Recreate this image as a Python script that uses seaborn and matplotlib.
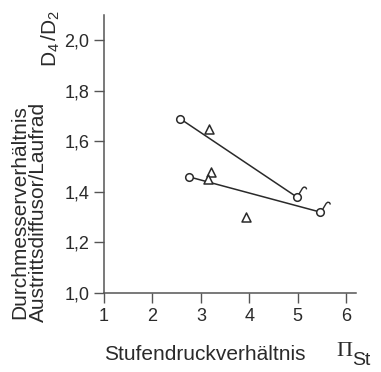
import matplotlib
matplotlib.use("Agg")
import matplotlib.pyplot as plt
import numpy as np
import pandas as pd
import seaborn as sns
from matplotlib.path import Path

# Stage pressure ratio vs. diameter ratio (exit diffuser / impeller)
circle_pr = [2.57, 2.75, 4.98, 5.47]
circle_dr = [1.69, 1.46, 1.38, 1.32]
flagged_pr = [4.98, 5.47]
flagged_dr = [1.38, 1.32]
triangle_pr = [3.16, 3.20, 3.14, 3.93]
triangle_dr = [1.65, 1.48, 1.45, 1.30]

# Trend lines connecting the circle series
trend_id = ["a", "a", "b", "b"]
trend_pr = [2.57, 4.98, 2.75, 5.47]
trend_dr = [1.69, 1.38, 1.46, 1.32]

x_ticks = [1, 2, 3, 4, 5, 6]
x_ticklabels = ["1", "2", "3", "4", "5", "6"]
y_ticks = [1.0, 1.2, 1.4, 1.6, 1.8, 2.0]
y_ticklabels = ["1,0", "1,2", "1,4", "1,6", "1,8", "2,0"]

sns.set_style("ticks")
plt.rcParams["font.family"] = ["Liberation Sans", "DejaVu Sans"]
plt.rcParams["mathtext.fontset"] = "custom"
plt.rcParams["mathtext.rm"] = "Liberation Sans"
plt.rcParams["mathtext.it"] = "Liberation Sans:italic"

ink = "#2a2a2a"
axis_col = "#555555"

fig = plt.figure(figsize=(3.81, 3.72), dpi=100)
ax = fig.add_axes([0.273, 0.2124, 0.661, 0.747])

trends = pd.DataFrame({"id": trend_id, "pr": trend_pr, "dr": trend_dr})
sns.lineplot(data=trends, x="pr", y="dr", units="id", estimator=None,
             sort=False, color=ink, linewidth=1.1, ax=ax, zorder=2)

sns.scatterplot(x=triangle_pr, y=triangle_dr, marker="^", s=42,
                color="white", edgecolor=ink, linewidth=1.1, ax=ax, zorder=3)
sns.scatterplot(x=circle_pr, y=circle_dr, marker="o", s=30,
                color="white", edgecolor=ink, linewidth=1.1, ax=ax, zorder=4)

# small hook attached to the two high-pressure-ratio circles
flag = Path([(0.6, 0.8), (1.5, 2.3), (1.9, 2.6), (2.35, 2.5), (2.6, 2.0)])
sns.scatterplot(x=flagged_pr, y=flagged_dr, marker=flag, s=205,
                color="none", edgecolor=ink, linewidth=1.0, ax=ax, zorder=4)

ax.set_xlim(1, 6.2)
ax.set_ylim(1.0, 2.10)
ax.set_xticks(x_ticks)
ax.set_xticklabels(x_ticklabels)
ax.set_yticks(y_ticks)
ax.set_yticklabels(y_ticklabels)
ax.set_xlabel("")
ax.set_ylabel("")
for side in ("top", "right"):
    ax.spines[side].set_visible(False)
for side in ("left", "bottom"):
    ax.spines[side].set_color(axis_col)
    ax.spines[side].set_linewidth(1.1)
ax.tick_params(direction="out", length=7, width=1.0, color=axis_col,
               labelsize=13, labelcolor=ink, pad=3.5)
ax.patch.set_alpha(0)

fig.text(0.538, 0.046, "Stufendruckverhältnis", ha="center", va="center",
         fontsize=15, color=ink)
fig.text(0.903, 0.054, "Π", ha="center", va="center", fontsize=16,
         color=ink, family=["Liberation Serif", "DejaVu Serif"])
fig.text(0.925, 0.032, "St", ha="left", va="center", fontsize=14, color=ink)

fig.text(0.0525, 0.43, "Durchmesserverhältnis", rotation=90, ha="center",
         va="center", fontsize=15, color=ink)
fig.text(0.0997, 0.43, "Austrittsdiffusor/Laufrad", rotation=90, ha="center",
         va="center", fontsize=15, color=ink)
fig.text(0.134, 0.898, r"$\mathrm{D_4\,/D_2}$", rotation=90, ha="center",
         va="center", fontsize=15, color=ink)

fig.savefig("out.png", dpi=100)
